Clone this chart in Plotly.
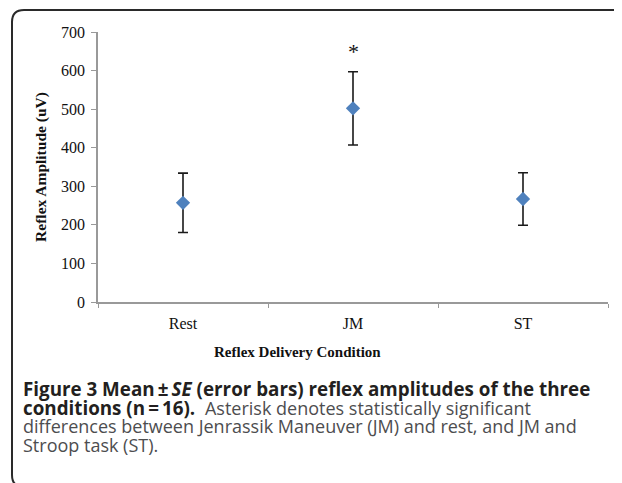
import plotly.graph_objects as go

categories = ["Rest", "JM", "ST"]
means = [257, 502, 267]
se = [77, 95, 68]
sig_marker = ["", "*", ""]
sig_y = [None, 650, None]

# the page adds an 8px body margin; positions below are in page pixels
OFF = 8
W, H = 622, 483
PL, PR, PT, PB = 98, 608, 32, 302  # plot area in page pixels
L, T = PL - OFF, PT - OFF
R = W - (PR - OFF)
B = H - (PB - OFF)
pw, ph = PR - PL, PB - PT

def px(x):
    return (x - PL) / pw

def py(y):
    return (PB - y) / ph

fig = go.Figure()
fig.add_trace(go.Scatter(
    x=categories, y=means, mode="markers",
    marker=dict(symbol="diamond", size=11, color="#4f81bd"),
    error_y=dict(type="data", array=se, visible=True, color="#1a1a1a",
                 thickness=1.6, width=5),
    showlegend=False,
))

for c, s, yv in zip(categories, sig_marker, sig_y):
    if s:
        fig.add_annotation(x=c, y=yv, text=s, showarrow=False,
                           font=dict(family="Liberation Serif", size=22, color="#111"),
                           xref="x", yref="y")

axis_font = dict(family="Liberation Serif", size=16, color="#111")
fig.update_layout(
    width=W, height=H,
    margin=dict(l=L, r=R, t=T, b=B),
    paper_bgcolor="white", plot_bgcolor="white",
    xaxis=dict(type="category", tickson="boundaries", ticks="outside", ticklen=4,
               tickcolor="#999", showline=True, linecolor="#999", linewidth=1.5,
               showgrid=False, zeroline=False, tickfont=axis_font,
               ticklabelstandoff=6, range=[-0.5, 2.5]),
    yaxis=dict(range=[0, 700], dtick=100, ticks="outside", ticklen=5,
               tickcolor="#999", showline=True, linecolor="#999", linewidth=1.5,
               showgrid=False, zeroline=False, tickfont=axis_font,
               ticklabelstandoff=3,
               title=dict(text="<b>Reflex Amplitude (uV)</b>", standoff=11,
                          font=dict(family="Liberation Serif", size=15.5, color="#111"))),
)

fig.add_annotation(x=px(297), y=py(352), xref="paper", yref="paper",
                   xanchor="center", yanchor="middle",
                   text="<b>Reflex Delivery Condition</b>", showarrow=False,
                   font=dict(family="Liberation Serif", size=15, color="#111"))

dark = "#231f20"
grey = "#4d4d4f"
cap_font = dict(family="Open Sans", size=18.8, color=dark)
reg = f"style='color:{grey};font-size:18px'"
lines = [
    "<b>Figure 3 Mean\u2009\u00b1\u2009<i>SE</i> (error bars) reflex amplitudes of the three</b>",
    f"<b>conditions (n\u2009=\u200916).</b>  <span {reg}>Asterisk denotes statistically significant</span>",
    f"<span {reg}>differences between Jenrassik Maneuver (JM) and rest, and JM and</span>",
    f"<span {reg}>Stroop task (ST).</span>",
]
ys = [389, 407.5, 426, 444.5]
for t, yy in zip(lines, ys):
    fig.add_annotation(x=px(21), y=py(yy), xref="paper", yref="paper",
                       xanchor="left", yanchor="middle", text=t, showarrow=False,
                       font=cap_font)

# rounded frame
x0, x1 = px(12), px(640)
yt, yb = py(10), py(487)
rx, ry = 12 / pw, 12 / ph
path = (f"M {x0+rx},{yb} Q {x0},{yb} {x0},{yb+ry} L {x0},{yt-ry} "
        f"Q {x0},{yt} {x0+rx},{yt} L {x1},{yt}")
fig.add_shape(type="path", path=path, xref="paper", yref="paper",
              line=dict(color="#2a2a2a", width=2))

fig.write_html("out.html")
